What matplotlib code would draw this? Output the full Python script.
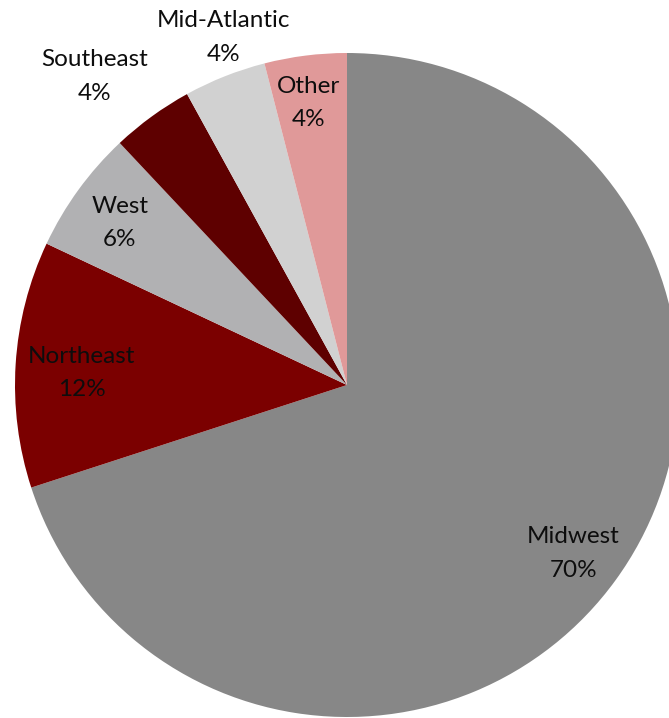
import numpy as np
import matplotlib
matplotlib.use("Agg")
import matplotlib.pyplot as plt

categories = ["Midwest", "Northeast", "West", "Southeast", "Mid-Atlantic", "Other"]
values = [70, 12, 6, 4, 4, 4]
pct_labels = ["70%", "12%", "6%", "4%", "4%", "4%"]
colors = ["#878787", "#7B0000", "#B1B1B3", "#5E0000", "#D1D1D1", "#E09999"]

# label placement (style): radial distance and angle offset in degrees
label_dist = [0.85, 0.80, 0.84, 1.20, 1.11, 0.857]
label_dang = [-0.6, 1.0, 0.5, 3.3, -2.1, 0.5]

W, H = 669, 718
fig = plt.figure(figsize=(W / 100, H / 100), dpi=100)
ax = fig.add_axes([0, 0, 1, 1])

cx, cy, R = 347, 385, 332
wedges, _ = ax.pie(values, colors=colors, startangle=90, counterclock=False,
                   radius=1.0, center=(0, 0), wedgeprops=dict(linewidth=0))
ax.set_xlim(-cx / R, (W - cx) / R)
ax.set_ylim(-(H - cy) / R, cy / R)
ax.set_aspect("auto")
ax.axis("off")

for w, name, pct, d, da in zip(wedges, categories, pct_labels, label_dist, label_dang):
    ang = np.deg2rad((w.theta1 + w.theta2) / 2 + da)
    x, y = d * np.cos(ang), d * np.sin(ang)
    ax.text(x, y, f"{name}\n{pct}", ha="center", va="center", fontsize=17.5,
            family=["Lato", "DejaVu Sans"], color="#0d0d0d", linespacing=1.75)

fig.savefig("out.png", dpi=100)
